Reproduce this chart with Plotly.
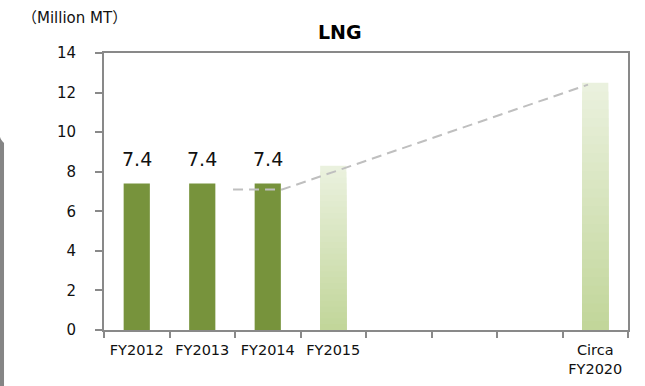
import plotly.graph_objects as go

# Categories along the x axis (blank slots for the years without bars)
categories = ["FY2012", "FY2013", "FY2014", "FY2015", " ", "  ", "   ", "Circa FY2020"]
tick_labels = ["FY2012", "FY2013", "FY2014", "FY2015", "", "", "", "Circa<br>FY2020"]

# Actual volumes (Million MT)
actual_x = ["FY2012", "FY2013", "FY2014"]
actual_y = [7.4, 7.4, 7.4]

# Planned volumes
plan_x = ["FY2015", "Circa FY2020"]
plan_y = [8.3, 12.5]

# Growth trend line (position along the category axis, value)
trend_x = [1.47, 2.22, 6.89]
trend_y = [7.1, 7.1, 12.4]

DARK = "#77933C"
TOP_RGB = (234, 241, 222)
BOTTOM_RGB = (194, 214, 154)
AXIS = "#898989"
FONT = "DejaVu Sans, Noto Sans CJK JP"

fig = go.Figure()

fig.add_trace(go.Bar(x=actual_x, y=actual_y, width=0.4,
                     marker=dict(color=DARK, line=dict(width=0)),
                     showlegend=False, hoverinfo="skip"))

# Planned bars drawn as stacked-over layers to give a vertical colour fade
N = 28
for k in range(N):
    t = k / (N - 1)
    rgb = tuple(round(TOP_RGB[i] + (BOTTOM_RGB[i] - TOP_RGB[i]) * t) for i in range(3))
    frac = (N - k) / N
    fig.add_trace(go.Bar(x=plan_x, y=[v * frac for v in plan_y], width=0.4,
                         marker=dict(color="rgb(%d,%d,%d)" % rgb, line=dict(width=0)),
                         showlegend=False, hoverinfo="skip"))

fig.add_trace(go.Scatter(x=trend_x, y=trend_y, xaxis="x2", mode="lines",
                         line=dict(color="#BFBFBF", width=2, dash="10px,6px"),
                         showlegend=False, hoverinfo="skip"))

annotations = [
    dict(x=cx, y=v, xref="x", yref="y", text=f"{v:.1f}", showarrow=False,
         yanchor="bottom", yshift=12, font=dict(family=FONT, size=19, color="#111"))
    for cx, v in zip(actual_x, actual_y)
]
annotations.append(dict(x=0.45, y=1.076, xref="paper", yref="paper", text="<b>LNG</b>",
                        showarrow=False, xanchor="center", yanchor="middle",
                        font=dict(family=FONT, size=19, color="#000")))
annotations.append(dict(x=-0.16, y=1.128, xref="paper", yref="paper", text="（Million MT）",
                        showarrow=False, xanchor="left", yanchor="middle",
                        font=dict(family=FONT, size=15, color="#111")))

fig.update_layout(
    width=645, height=386,
    margin=dict(l=104, r=17, t=53, b=56),
    paper_bgcolor="white", plot_bgcolor="white",
    barmode="overlay",
    annotations=annotations,
    xaxis=dict(type="category", categoryorder="array", categoryarray=categories,
               tickvals=categories, ticktext=tick_labels, tickson="boundaries",
               tickangle=0, automargin=False,
               ticks="outside", ticklen=6, tickwidth=2, tickcolor=AXIS,
               ticklabelstandoff=6,
               showline=True, linecolor=AXIS, linewidth=2, mirror=True,
               showgrid=False, zeroline=False,
               tickfont=dict(family=FONT, size=14.5, color="#111")),
    xaxis2=dict(overlaying="x", range=[-0.5, 7.5], visible=False),
    yaxis=dict(range=[0, 14], dtick=2, ticks="outside", ticklen=7, tickwidth=2,
               tickcolor=AXIS, ticklabelstandoff=16, automargin=False,
               showline=True, linecolor=AXIS, linewidth=2, mirror=True,
               showgrid=False, zeroline=False,
               tickfont=dict(family=FONT, size=15, color="#111")),
    shapes=[dict(type="path", xref="paper", yref="paper",
                 path="M -0.1985,-0.21 L -0.1985,0.70 Q -0.1985,0.69 -0.1908,0.675 L -0.1908,-0.21 Z",
                 fillcolor="#858585", line=dict(width=0))],
)

fig.write_html("out.html")
